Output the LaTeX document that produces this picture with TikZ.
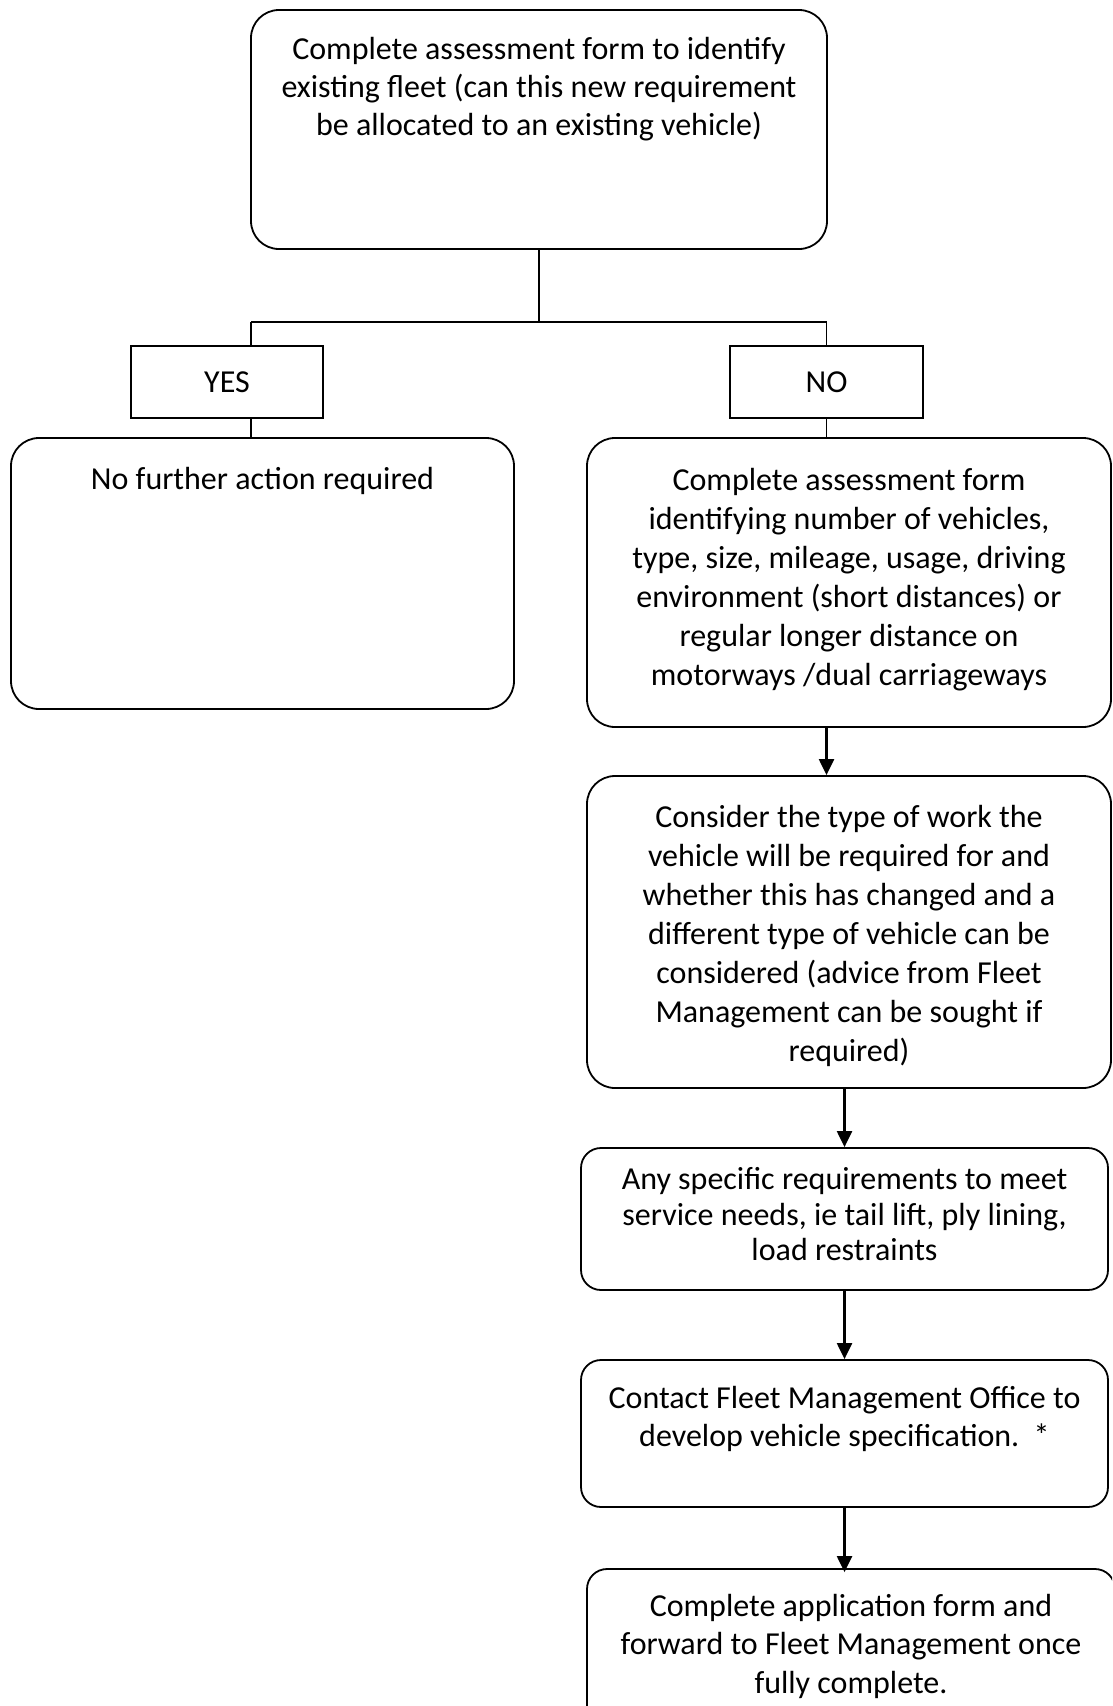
\documentclass[tikz,border=0pt]{standalone}
\usepackage{fontspec}
\setmainfont{Carlito}
\usetikzlibrary{arrows.meta}
\begin{document}
\begin{tikzpicture}[x=1pt,y=-1pt,
  box/.style={draw, line width=1.8pt, rounded corners=28pt, inner sep=0pt},
  smallbox/.style={box, rounded corners=20pt},
  tag/.style={draw, line width=1.8pt, inner sep=0pt, font=\fontsize{32}{39}\selectfont},
  txt/.style={align=center, inner sep=0pt, anchor=north, font=\fontsize{32}{39}\selectfont},
  link/.style={line width=1.4pt},
  arr/.style={line width=2.2pt, -{Triangle[width=15pt,length=16pt]}}]
\clip (0,0) rectangle (1112,1706);
\fill[white] (0,0) rectangle (1112,1706);

% boxes
\node[box, minimum width=576pt, minimum height=239pt] (top) at (539,129.5) {};
\node[tag, minimum width=192pt, minimum height=72pt] (yes) at (227,382) {YES};
\node[tag, minimum width=193pt, minimum height=72pt] (no) at (826.5,382) {NO};
\node[box, minimum width=503pt, minimum height=271pt] (left) at (262.5,573.5) {};
\node[box, minimum width=524pt, minimum height=289pt] (r1) at (849,582.5) {};
\node[box, minimum width=524pt, minimum height=312pt] (r2) at (849,932) {};
\node[smallbox, minimum width=527pt, minimum height=142pt] (r3) at (844.5,1219) {};
\node[smallbox, minimum width=527pt, minimum height=147pt] (r4) at (844.5,1433.5) {};
\node[smallbox, minimum width=528pt, minimum height=171pt] (r5) at (851,1654.5) {};

% box texts
\node[txt, font=\fontsize{32}{38}\selectfont] (ttop) at ([yshift=-23.7pt]top.north) {\strut Complete assessment form to identify\\existing fleet (can this new requirement\\be allocated to an existing vehicle)};
\node[txt] (tleft) at ([yshift=-24.7pt]left.north) {\strut No further action required};
\node[txt] (tr1) at ([yshift=-25.7pt]r1.north) {\strut Complete assessment form\\identifying number of vehicles,\\type, size, mileage, usage, driving\\environment (short distances) or\\regular longer distance on\\motorways /dual carriageways};
\node[txt] (tr2) at ([yshift=-24.7pt]r2.north) {\strut Consider the type of work the\\vehicle will be required for and\\whether this has changed and a\\different type of vehicle can be\\considered (advice from Fleet\\Management can be sought if\\required)};
\node[txt, font=\fontsize{32}{35.4}\selectfont] (tr3) at ([yshift=-17.7pt]r3.north) {\strut Any specific requirements to meet\\service needs, ie tail lift, ply lining,\\load restraints};
\node[txt, font=\fontsize{32}{38}\selectfont] (tr4) at ([yshift=-22.7pt]r4.north) {\strut Contact Fleet Management Office to\\develop vehicle specification.\ \ *};
\node[txt, font=\fontsize{32}{38.6}\selectfont] (tr5) at ([yshift=-20.7pt]r5.north) {\strut Complete application form and\\forward to Fleet Management once\\fully complete.};

% connectors
\coordinate (split) at (539,322);
\coordinate (lj) at (251,322);
\coordinate (rj) at (826.5,322);
\draw[link] (top.south) -- (split);
\draw[link] (lj) -- (rj);
\draw[link] (lj) -- (lj |- yes.north);
\draw[link] (rj) -- (no.north);
\draw[link] (lj |- yes.south) -- (lj |- left.north);
\draw[link] (no.south) -- (no |- r1.north);
\draw[arr] (no |- r1.south) -- (no |- r2.north);
\draw[arr] (r3 |- r2.south) -- (r3.north);
\draw[arr] (r3.south) -- (r4.north);
\draw[arr, shorten >=-4pt] (r4.south) -- (r4 |- r5.north);
\end{tikzpicture}
\end{document}
